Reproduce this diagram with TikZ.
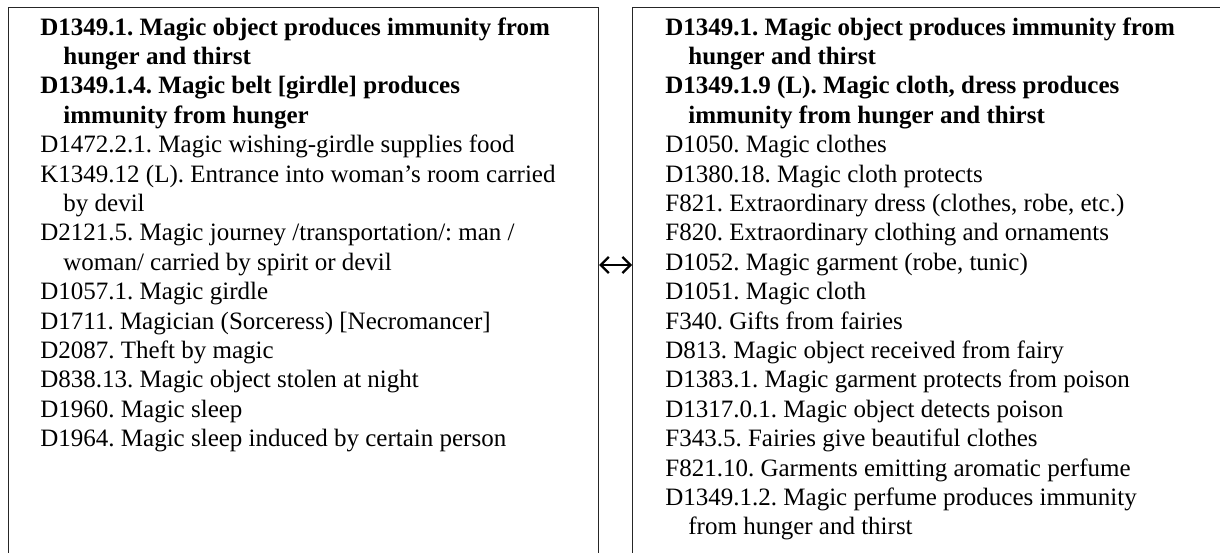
\documentclass[tikz,border=0pt]{standalone}
\usepackage{fontspec}
\setmainfont{Liberation Serif}
\usetikzlibrary{positioning}
\usetikzlibrary {arrows.meta}
\tikzset{motifbox/.style={rectangle,draw=black!85,line width=0.6pt,
inner sep=0pt,minimum height=300pt}}
\tikzset{motiflist/.style={anchor=north west,inner sep=0pt,align=left,
font=\fontsize{12.5pt}{14.7pt}\selectfont\frenchspacing}}
\newcommand{\cont}{\hspace*{11.5pt}}

\begin{document}
\begin{tikzpicture}
        \useasboundingbox (0,0) rectangle (610pt,276pt);

        \node[motifbox, anchor=north west, minimum width=295pt] (boxL) at (4pt, 272.5pt) { };
        \node[motifbox, anchor=north west, minimum width=320pt] (boxR) at (316pt, 272.5pt) { };

        \node[motiflist] (listL) at ([xshift=16pt,yshift=-5pt]boxL.north west) {%
            \textbf{D1349.1. Magic object produces immunity from}\\
            \cont\textbf{hunger and thirst}\\
            \textbf{D1349.1.4. Magic belt [girdle] produces}\\
            \cont\textbf{immunity from hunger}\\
            D1472.2.1. Magic wishing-girdle supplies food\\
            K1349.12 (L). Entrance into woman’s room carried\\
            \cont by devil\\
            D2121.5. Magic journey /transportation/: man /\\
            \cont woman/ carried by spirit or devil\\
            D1057.1. Magic girdle\\
            D1711. Magician (Sorceress) [Necromancer]\\
            D2087. Theft by magic\\
            D838.13. Magic object stolen at night\\
            D1960. Magic sleep\\
            D1964. Magic sleep induced by certain person};

        \node[motiflist] (listR) at ([xshift=16.5pt,yshift=-5pt]boxR.north west) {%
            \textbf{D1349.1. Magic object produces immunity from}\\
            \cont\textbf{hunger and thirst}\\
            \textbf{D1349.1.9 (L). Magic cloth, dress produces}\\
            \cont\textbf{immunity from hunger and thirst}\\
            D1050. Magic clothes\\
            D1380.18. Magic cloth protects\\
            F821. Extraordinary dress (clothes, robe, etc.)\\
            F820. Extraordinary clothing and ornaments\\
            D1052. Magic garment (robe, tunic)\\
            D1051. Magic cloth\\
            F340. Gifts from fairies\\
            D813. Magic object received from fairy\\
            D1383.1. Magic garment protects from poison\\
            D1317.0.1. Magic object detects poison\\
            F343.5. Fairies give beautiful clothes\\
            F821.10. Garments emitting aromatic perfume\\
            D1349.1.2. Magic perfume produces immunity\\
            \cont from hunger and thirst};

        \draw [line width=1.1pt,{Straight Barb[length=4pt,width=8pt]}-{Straight Barb[length=4pt,width=8pt]}]
            ([yshift=-129pt]boxL.north east) -- ([yshift=-129pt]boxR.north west);

\end{tikzpicture}
\end{document}
